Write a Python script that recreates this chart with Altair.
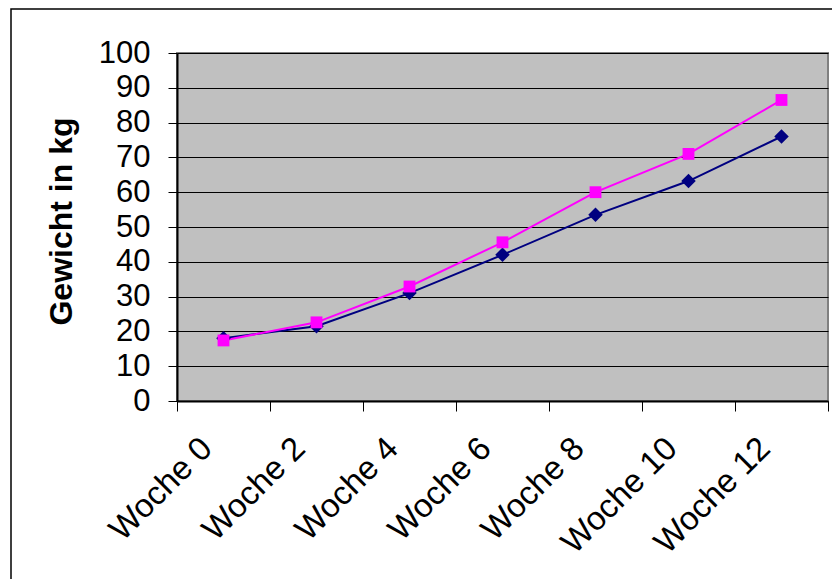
import altair as alt
import pandas as pd

# Weekly weights (kg) of two animals
weeks = ["Woche 0", "Woche 2", "Woche 4", "Woche 6", "Woche 8", "Woche 10", "Woche 12"]
reihe1 = [18.0, 21.5, 31.0, 42.0, 53.5, 63.2, 76.0]
reihe2 = [17.4, 22.6, 32.9, 45.6, 60.0, 71.0, 86.5]
series_names = ["Reihe1", "Reihe2"]
series_colors = ["#000080", "#FF00FF"]
series_shapes = ["diamond", "square"]
series_sizes = [210, 140]
y_ticks = [0, 10, 20, 30, 40, 50, 60, 70, 80, 90, 100]

rows = []
for name, values in zip(series_names, [reihe1, reihe2]):
    for w, v in zip(weeks, values):
        rows.append({"Woche": w, "Gewicht": v, "Reihe": name})
df = pd.DataFrame(rows)

FONT = "Liberation Sans"

x_enc = alt.X(
    "Woche:N",
    sort=weeks,
    scale=alt.Scale(type="band", paddingInner=0, paddingOuter=0),
    axis=alt.Axis(
        title=None,
        tickBand="extent",
        grid=False,
        labelAngle=315,
        labelAlign="right",
        labelBaseline="middle",
        labelFontSize=33,
        labelFont=FONT,
        labelColor="#000000",
        labelOffset=-17,
        labelPadding=32,
        tickSize=10,
        tickColor="#000000",
        domainColor="#000000",
        domainWidth=2,
    ),
)
y_enc = alt.Y(
    "Gewicht:Q",
    scale=alt.Scale(domain=[0, 100], nice=False),
    axis=alt.Axis(
        title="Gewicht in kg",
        values=y_ticks,
        grid=True,
        gridColor="#000000",
        gridWidth=1,
        labelFontSize=31,
        labelFont=FONT,
        labelColor="#000000",
        labelPadding=18,
        tickSize=9,
        tickColor="#000000",
        domainColor="#000000",
        domainWidth=2,
        titleFont=FONT,
        titleFontSize=32,
        titleFontWeight="bold",
        titleColor="#000000",
        titleAngle=270,
        titleAlign="center",
        titleBaseline="middle",
        titleX=-116,
        titleY=168,
    ),
)
color_enc = alt.Color(
    "Reihe:N",
    scale=alt.Scale(domain=series_names, range=series_colors),
    legend=None,
)
shape_enc = alt.Shape(
    "Reihe:N",
    scale=alt.Scale(domain=series_names, range=series_shapes),
    legend=None,
)
size_enc = alt.Size(
    "Reihe:N",
    scale=alt.Scale(domain=series_names, range=series_sizes),
    legend=None,
)

lines = alt.Chart(df).mark_line(strokeWidth=2).encode(x=x_enc, y=y_enc, color=color_enc)
points = alt.Chart(df).mark_point(filled=True, opacity=1).encode(
    x=x_enc, y=y_enc, color=color_enc, shape=shape_enc, size=size_enc
)

# Outer chart frame
frame = alt.Chart(alt.Data(values=[{}])).mark_rect(
    filled=False, stroke="#000000", strokeWidth=1.5
).encode(
    x=alt.value(-166), x2=alt.value(700), y=alt.value(-44), y2=alt.value(600)
)

chart = alt.layer(frame, lines, points).properties(
    width=651,
    height=348,
    padding={"left": 177, "top": 53, "right": 4, "bottom": 178},
    autosize=alt.AutoSizeParams(type="none"),
    background="#FFFFFF",
).configure_view(
    fill="#C0C0C0", stroke="#808080", strokeWidth=2
)

chart.save("out.html", embed_options={"renderer": "svg", "actions": False})
